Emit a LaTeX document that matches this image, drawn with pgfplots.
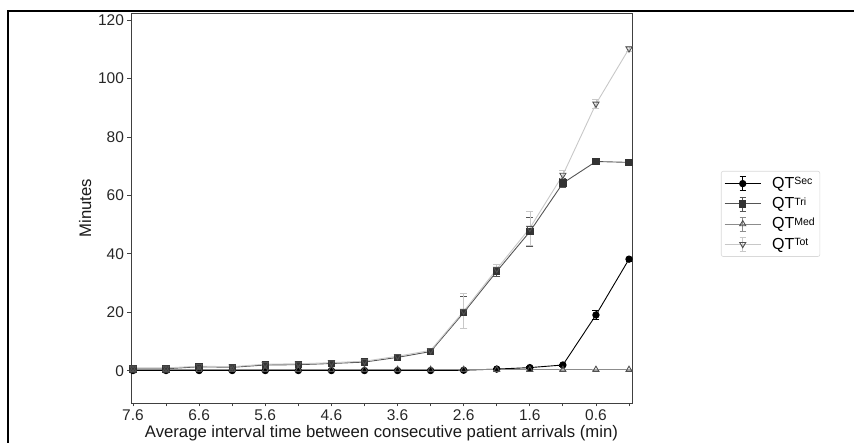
\documentclass[border=0pt]{standalone}
\usepackage{pgfplots}
\pgfplotsset{compat=1.18}
\usepackage{fontspec}
\setmainfont{Liberation Sans}
\definecolor{axisgray}{HTML}{404040}
\definecolor{triline}{HTML}{555555}
\definecolor{trimark}{HTML}{333333}
\definecolor{medline}{HTML}{8C8C8C}
\definecolor{totline}{HTML}{C8C8C8}
\definecolor{edgegray}{HTML}{505050}
\newcommand{\sub}[1]{\raisebox{3.6pt}{\fontsize{10.5}{10.5}\selectfont #1}}
\pgfplotsset{
  legend image code/.code={
    \draw[#1, mark=none, line width=0.6pt] (18pt,-7pt) -- (18pt,7pt) (15pt,7pt) -- (21pt,7pt) (15pt,-7pt) -- (21pt,-7pt);
    \draw[mark repeat=2,mark phase=2,#1] plot coordinates {(0pt,0pt)(18pt,0pt)(36pt,0pt)};
  }
}
\pgfplotstableread{
x    sec   secE  tri   triE  med  medE  tot   totE
7.6  0.1   0.1   0.7   0.3   0.4  0.1   1.0   0.3
7.1  0.1   0.1   0.7   0.3   0.4  0.1   1.0   0.3
6.6  0.1   0.1   1.4   0.3   0.4  0.1   1.6   0.3
6.1  0.1   0.1   1.2   0.3   0.4  0.1   1.4   0.3
5.6  0.1   0.1   2.0   0.3   0.4  0.1   2.3   0.3
5.1  0.1   0.1   2.1   0.3   0.4  0.1   2.4   0.3
4.6  0.1   0.1   2.5   0.3   0.4  0.1   2.8   0.3
4.1  0.1   0.1   3.0   0.3   0.4  0.1   3.3   0.3
3.6  0.1   0.1   4.6   0.4   0.4  0.1   5.0   0.4
3.1  0.1   0.1   6.6   0.5   0.4  0.1   7.0   0.6
2.6  0.2   0.1   19.9  5.5   0.4  0.1   20.4  6.0
2.1  0.6   0.1   34.0  1.5   0.4  0.1   34.8  1.8
1.6  1.1   0.3   47.6  5.0   0.4  0.1   48.8  5.7
1.1  2.0   0.4   64.2  1.5   0.4  0.1   67.0  1.5
0.6  19.1  1.5   71.6  0.6   0.4  0.1   91.3  1.5
0.1  38.2  0.8   71.3  0.5   0.4  0.1   110.2 0.8
}\datatable
\begin{document}
\begin{tikzpicture}[x=1pt,y=1pt]
\draw[line width=2pt, black] (8,0) -- (8,432) -- (854,432);
\begin{axis}[
  at={(131pt,40pt)}, anchor=south west,
  scale only axis, width=501pt, height=390pt,
  x dir=reverse, xmin=0.055, xmax=7.63, ymin=-11, ymax=122.4,
  xtick={7.6,7.1,6.6,6.1,5.6,5.1,4.6,4.1,3.6,3.1,2.6,2.1,1.6,1.1,0.6,0.1},
  xticklabels={7.6,,6.6,,5.6,,4.6,,3.6,,2.6,,1.6,,0.6,},
  ytick={0,20,40,60,80,100,120},
  /pgf/number format/assume math mode=true,
  tick align=outside, major tick length=3.5pt,
  xtick pos=bottom, ytick pos=left,
  tick style={color=axisgray, line width=0.8pt},
  axis line style={color=axisgray, line width=0.9pt},
  ticklabel style={font=\fontsize{15.5}{16}\selectfont, text=black!85},
  xlabel={Average interval time between consecutive patient arrivals (min)},
  ylabel={Minutes},
  xlabel style={yshift=2pt},
  label style={font=\fontsize{16.7}{18}\selectfont, text=black!90},
  legend style={at={(1.1776,0.5949)}, anchor=north west, draw=black!15,
    rounded corners=2pt, line width=0.6pt, font=\fontsize{16}{17}\selectfont,
    row sep=3.5pt, inner xsep=3pt, inner ysep=4pt,
    /tikz/every odd column/.append style={column sep=9pt}},
  legend cell align=left,
]
\addplot[black, line width=0.9pt, mark=*, mark size=3.2pt, mark options={fill=black},
  error bars/.cd, y dir=both, y explicit,
  error bar style={black, line width=0.6pt},
  error mark options={rotate=90, black, mark size=3.5pt, line width=0.6pt}]
  table[x=x, y=sec, y error=secE] {\datatable};
\addlegendentry{QT\sub{Sec}}
\addplot[triline, line width=0.9pt, mark=square*, mark size=3.2pt, mark options={fill=trimark, draw=trimark},
  error bars/.cd, y dir=both, y explicit,
  error bar style={triline, line width=0.6pt},
  error mark options={rotate=90, triline, mark size=3.5pt, line width=0.6pt}]
  table[x=x, y=tri, y error=triE] {\datatable};
\addlegendentry{QT\sub{Tri}}
\addplot[medline, line width=0.9pt, mark=triangle, mark size=3.5pt, mark options={draw=edgegray},
  error bars/.cd, y dir=both, y explicit,
  error bar style={medline!70, line width=0.6pt},
  error mark options={rotate=90, medline!70, mark size=3.5pt, line width=0.6pt}]
  table[x=x, y=med, y error=medE] {\datatable};
\addlegendentry{QT\sub{Med}}
\addplot[totline, line width=0.9pt, mark=triangle, mark size=3.5pt, mark options={draw=edgegray, rotate=180},
  error bars/.cd, y dir=both, y explicit,
  error bar style={totline, line width=0.6pt},
  error mark options={rotate=90, totline, mark size=3.5pt, line width=0.6pt}]
  table[x=x, y=tot, y error=totE] {\datatable};
\addlegendentry{QT\sub{Tot}}
\end{axis}
\pgfresetboundingbox
\useasboundingbox (0,0) rectangle (854,443);
\end{tikzpicture}
\end{document}
